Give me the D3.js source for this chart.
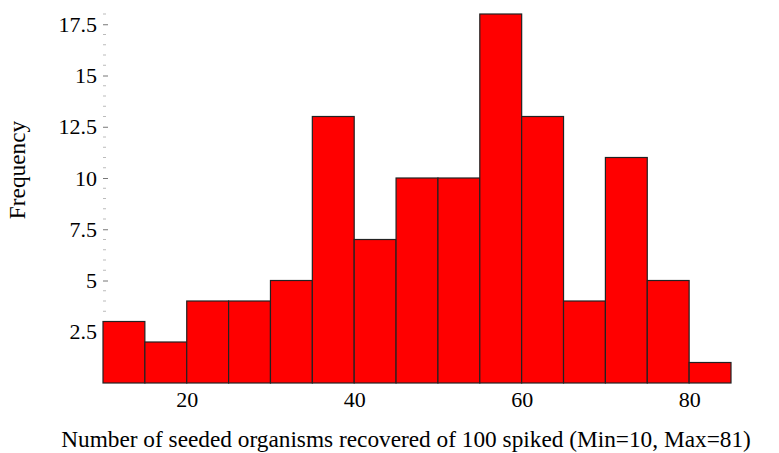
<!DOCTYPE html>
<html>
<head>
<meta charset="utf-8">
<script src="https://cdn.jsdelivr.net/npm/d3@7"></script>
<style>
  body { margin: 0; background: #fff; }
</style>
</head>
<body>
<div id="chart"></div>
<script>
// histogram bins (width 5) and counts
const binStarts = [10, 15, 20, 25, 30, 35, 40, 45, 50, 55, 60, 65, 70, 75, 80];
const counts    = [3, 2, 4, 4, 5, 13, 7, 10, 10, 18, 13, 4, 11, 5, 1];
const binWidth  = 5;
const xTicks    = [20, 40, 60, 80];
const yTicks    = [2.5, 5, 7.5, 10, 12.5, 15, 17.5];
const xTitle    = 'Number of seeded organisms recovered of 100 spiked (Min=10, Max=81)';
const yTitle    = 'Frequency';

const width = 779, height = 453;
const serif = '"Liberation Serif", "Times New Roman", Times, serif';

const svg = d3.select('#chart')
  .append('svg')
  .attr('width', width)
  .attr('height', height)
  .style('font-family', serif);

const x = d3.scaleLinear().domain([10, 85]).range([103, 731]);
const y = d3.scaleLinear().domain([0, 18]).range([383, 14]);

// minor ticks on y axis
const minor = d3.range(0.5, 18.01, 0.5).filter(v => !yTicks.includes(v));
svg.append('g')
  .selectAll('line')
  .data(minor)
  .enter().append('line')
    .attr('x1', x(10)).attr('x2', x(10) + 3)
    .attr('y1', d => y(d)).attr('y2', d => y(d))
    .attr('stroke', '#bbb')
    .attr('stroke-width', 1);

// y axis: ticks point inward, no domain line
const yAxis = svg.append('g')
  .attr('transform', `translate(${x(10)},0)`)
  .call(d3.axisLeft(y).tickValues(yTicks).tickSizeInner(-5).tickSizeOuter(0).tickPadding(6)
    .tickFormat(d => String(d)));
yAxis.attr('font-family', null).attr('font-size', null);
yAxis.select('.domain').remove();
yAxis.selectAll('line').attr('stroke', '#777');
yAxis.selectAll('text')
  .style('font-family', serif)
  .style('font-size', '22px')
  .attr('fill', '#000');

// bars
svg.append('g')
  .selectAll('rect')
  .data(binStarts)
  .enter().append('rect')
    .attr('x', d => x(d))
    .attr('y', (d, i) => y(counts[i]))
    .attr('width', d => x(d + binWidth) - x(d))
    .attr('height', (d, i) => y(0) - y(counts[i]))
    .attr('fill', '#ff0000')
    .attr('stroke', '#222')
    .attr('stroke-width', 1.2);

// x axis: labels only
const xAxis = svg.append('g')
  .attr('transform', `translate(0,${y(0)})`)
  .call(d3.axisBottom(x).tickValues(xTicks).tickSize(0).tickPadding(8));
xAxis.attr('font-family', null).attr('font-size', null);
xAxis.select('.domain').remove();
xAxis.selectAll('text')
  .style('font-family', serif)
  .style('font-size', '22px')
  .attr('fill', '#000');

// titles
svg.append('text')
  .attr('x', 406)
  .attr('y', 447)
  .attr('text-anchor', 'middle')
  .style('font-family', serif)
  .style('font-size', '23.3px')
  .text(xTitle);

svg.append('text')
  .attr('transform', 'translate(25,170) rotate(-90)')
  .attr('text-anchor', 'middle')
  .style('font-family', serif)
  .style('font-size', '23.3px')
  .text(yTitle);
</script>
</body>
</html>
